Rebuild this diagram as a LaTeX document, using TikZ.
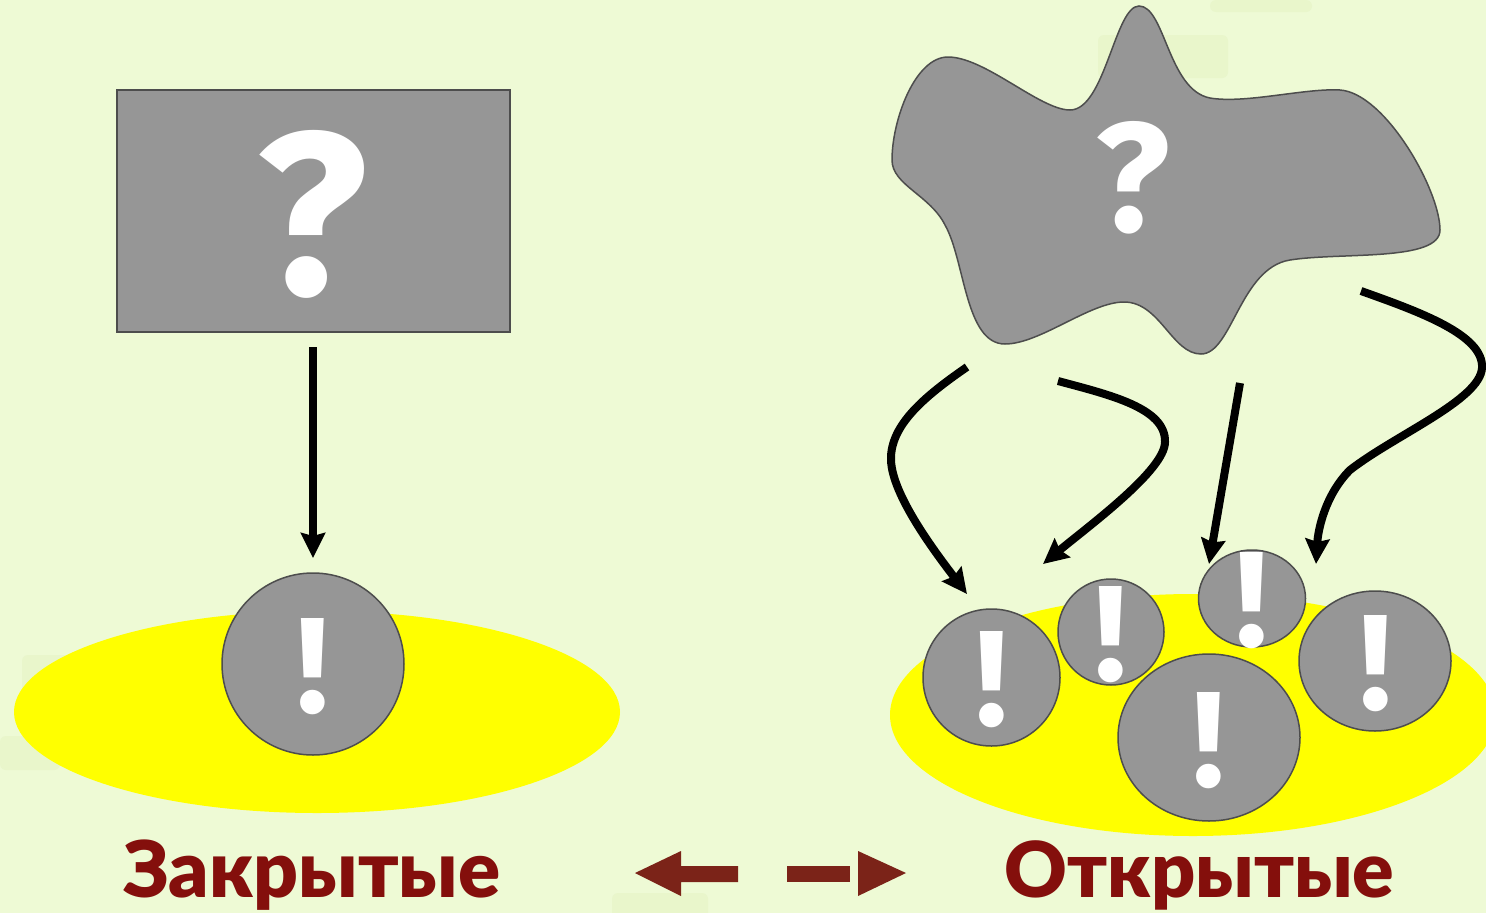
\documentclass[tikz,border=0pt]{standalone}
\usepackage{graphicx}
\usepackage{fontspec}
\setmainfont{Lato}[BoldFont={Lato Black}]
\newfontfamily\markfont{Fira Sans}
\definecolor{bgc}{HTML}{EEFAD5}
\definecolor{patch}{HTML}{E9F6CB}
\definecolor{greyf}{HTML}{969696}
\definecolor{greyl}{HTML}{4D4D4D}
\definecolor{wine}{HTML}{840F0C}
\definecolor{brick}{HTML}{7B2318}
\definecolor{sun}{HTML}{FFFF00}
\usetikzlibrary{arrows.meta,shapes.geometric}
\tikzset{
  x=1pt,y=-1pt,
  grey/.style={fill=greyf,draw=greyl,line width=1.5pt},
  pool/.style={fill=sun,draw=none,ellipse,inner sep=0pt},
  drop/.style={grey,ellipse,inner sep=0pt},
  flow/.style={draw=black,line width=8pt,-{Stealth[length=25pt,width=24pt,inset=3pt]}},
  excl/.style={anchor=south,inner sep=0pt,text=white},
  quest/.style={anchor=center,inner sep=0pt,text=white},
  title/.style={anchor=base west,inner sep=0pt,text=wine},
  faint/.style={fill=patch,draw=none,rounded corners=6pt},
}
\newcommand{\bang}{\resizebox{!}{94pt}{\markfont\bfseries !}}
\begin{document}
\begin{tikzpicture}
\useasboundingbox (0,0) rectangle (1486,913);
\fill[bgc] (0,0) rectangle (1486,913);
\fill[faint] (1098,35) rectangle (1228,78);
\fill[faint] (1210,0) rectangle (1312,12);
\fill[faint] (22,655) rectangle (80,700);
\fill[faint] (0,736) rectangle (60,770);
\fill[faint] (612,893) rectangle (708,920);
% left
\node[grey,rectangle,minimum width=393pt,minimum height=242pt,inner sep=0pt] (box) at (313.5,211) {};
\node[quest] (qa) at (312,214) {\resizebox{!}{164pt}{\markfont\bfseries ?}};
\node[pool,minimum width=606pt,minimum height=202pt] (pa) at (317,712) {};
\node[drop,minimum width=182pt,minimum height=182pt] (ca) at (313,664) {};
\node[excl] (ea) at (313,715) {\bang};
\coordinate (sa) at (313,347);
\coordinate (ta) at (313,558);
\draw[flow] (sa) -- (ta);
% right
\path[grey] (1139,6)
  .. controls (1165,6) and (1168,90) .. (1210,98)
  .. controls (1245,104) and (1305,88) .. (1340,90)
  .. controls (1385,93) and (1440,190) .. (1440,230)
  .. controls (1440,262) and (1340,252) .. (1290,260)
  .. controls (1240,268) and (1232,354) .. (1201,354)
  .. controls (1172,354) and (1160,302) .. (1124,302)
  .. controls (1090,302) and (1040,344) .. (1005,344)
  .. controls (965,344) and (965,260) .. (945,225)
  .. controls (930,195) and (892,185) .. (892,160)
  .. controls (892,120) and (915,57) .. (948,57)
  .. controls (985,57) and (1040,110) .. (1070,110)
  .. controls (1105,110) and (1115,6) .. (1139,6) -- cycle;
\node[quest] (qb) at (1133,178) {\resizebox{!}{110pt}{\markfont\bfseries ?}};
\node[pool,minimum width=606pt,minimum height=242pt] (pb) at (1193,715) {};
\node[drop,minimum width=137pt,minimum height=137pt] (c1) at (991.5,677.5) {};
\node[drop,minimum width=106pt,minimum height=106pt] (c2) at (1111,632) {};
\node[drop,minimum width=107pt,minimum height=97pt] (c3) at (1252,598.5) {};
\node[drop,minimum width=152pt,minimum height=140pt] (c4) at (1375,661) {};
\node[drop,minimum width=182pt,minimum height=167pt] (c5) at (1209,737.5) {};
\node[excl] (eb) at (992,728) {\bang};
\node[excl] (ec) at (1111,683) {\bang};
\node[excl] (ed) at (1252,649) {\bang};
\node[excl] (ee) at (1376,712) {\bang};
\node[excl] (ef) at (1209,789) {\bang};
\coordinate (s1) at (967,367); \coordinate (t1) at (967,594);
\coordinate (s2) at (1058,381); \coordinate (t2) at (1043,564);
\coordinate (s3) at (1240,383); \coordinate (t3) at (1209,564);
\coordinate (s4) at (1361,291); \coordinate (t4) at (1316,564);
\draw[flow] (s1) .. controls (925,396) and (890,425) .. (891,460) .. controls (892,495) and (935,552) .. (t1);
\draw[flow] (s2) .. controls (1110,395) and (1166,408) .. (1165,442) .. controls (1165,470) and (1090,525) .. (t2);
\draw[flow] (s3) -- (t3);
\draw[flow] (s4) .. controls (1420,312) and (1484,335) .. (1482,368) .. controls (1480,400) and (1395,435) .. (1350,470) .. controls (1325,495) and (1318,530) .. (t4);
% bottom
\node[title] (closed) at (123,897) {\resizebox{377pt}{!}{\bfseries Закрытые}};
\node[title] (open) at (1004,897) {\resizebox{390pt}{!}{\bfseries Открытые}};
\fill[brick] (635,873) -- (681,851) -- (681,866) -- (738,866) -- (738,882) -- (681,882) -- (681,896) -- cycle;
\fill[brick] (787,866) rectangle (850,882);
\fill[brick] (906,873) -- (858,851) -- (858,896) -- cycle;
\end{tikzpicture}
\end{document}
